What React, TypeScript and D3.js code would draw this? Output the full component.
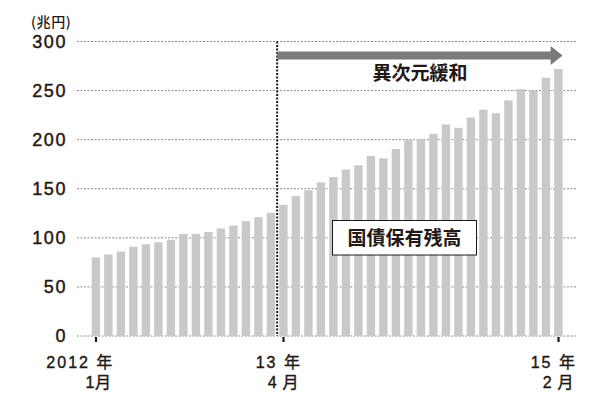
import React, { useEffect, useRef } from "react";
import * as d3 from "d3";

// 2012年1月 .. 2015年2月 (38 months), 兆円
const months = d3.range(38).map(i => {
  const y = 2012 + Math.floor(i / 12);
  const m = (i % 12) + 1;
  return `${y}-${m}`;
});
const holdings = [
  80, 83, 86, 91, 93.5, 95.5, 98, 104, 104, 106, 109.5, 112.5, 117, 121, 125.5,
  133.5, 142.5, 148.5, 156.5, 162, 169.5, 174, 183.5, 181, 190.5, 200, 200.5,
  206, 215.5, 212, 222.5, 230.5, 227, 240, 251.5, 250, 263, 272,
];
const yTicks = [0, 50, 100, 150, 200, 250, 300];
const xLabels = [
  { idx: 0, line1: "2012 年", line2: "1月" },
  { idx: 15, line1: "13 年", line2: "4 月" },
  { idx: 37, line1: "15 年", line2: "2 月" },
];
const startIdx = 15; // 2013年4月 異次元緩和開始

const W = 600;
const H = 399;
const ink = "#231815";
const font = "'Liberation Sans', 'Noto Sans CJK JP', sans-serif";
const jpFont = "'Noto Sans CJK JP', sans-serif";

export default function App() {
  const ref = useRef<SVGSVGElement>(null);

  useEffect(() => {
    const svg = d3.select(ref.current);
    svg.selectAll("*").remove();

    const x = d3.scaleBand<string>().domain(months).range([91.7, 562.6]).paddingInner(0.33).paddingOuter(0);
    const y = d3.scaleLinear().domain([0, 300]).range([336, 41.5]);
    const bw = x.bandwidth();
    const gap = x.step() - bw;

    // grid
    svg.append("g")
      .selectAll("line")
      .data(yTicks)
      .join("line")
      .attr("x1", 77)
      .attr("x2", 576)
      .attr("y1", d => y(d))
      .attr("y2", d => y(d))
      .attr("stroke", "#8a8a8a")
      .attr("stroke-width", 1)
      .attr("stroke-dasharray", "2,1.5");

    // y labels
    svg.append("g")
      .selectAll("text")
      .data(yTicks)
      .join("text")
      .attr("x", 67)
      .attr("y", d => y(d))
      .attr("dy", "0.36em")
      .attr("text-anchor", "end")
      .attr("font-family", font)
      .attr("font-size", 18)
      .attr("letter-spacing", 1.6)
      .attr("fill", ink)
      .attr("stroke", ink)
      .attr("stroke-width", 0.45)
      .text(d => d);

    svg.append("text")
      .attr("x", 31)
      .attr("y", 22)
      .attr("dy", "0.36em")
      .attr("font-family", jpFont)
      .attr("font-weight", 500)
      .attr("font-size", 14)
      .attr("letter-spacing", 0.6)
      .attr("fill", ink)
      .text("(兆円)");

    // bars
    svg.append("g")
      .selectAll("rect")
      .data(holdings)
      .join("rect")
      .attr("x", (d, i) => x(months[i])!)
      .attr("width", bw)
      .attr("y", d => y(d))
      .attr("height", d => y(0) - y(d))
      .attr("fill", "#c9c9c9");

    // bottom ticks + labels
    const lab = svg.append("g");
    xLabels.forEach(l => {
      const cx = x(months[l.idx])! + bw / 2;
      lab.append("rect")
        .attr("x", cx - 1)
        .attr("y", y(0) + 1)
        .attr("width", 2.2)
        .attr("height", 5)
        .attr("fill", ink);
      lab.append("text")
        .attr("x", cx + 18.5)
        .attr("y", 362.5)
        .attr("dy", "0.36em")
        .attr("text-anchor", "end")
        .attr("font-family", font)
        .attr("font-size", 16)
        .attr("letter-spacing", 2)
        .attr("fill", ink)
        .attr("stroke", ink)
        .attr("stroke-width", 0.4)
        .text(l.line1);
      lab.append("text")
        .attr("x", cx + 16)
        .attr("y", 382)
        .attr("dy", "0.36em")
        .attr("text-anchor", "end")
        .attr("font-family", font)
        .attr("font-size", 16)
        .attr("letter-spacing", 0.8)
        .attr("fill", ink)
        .attr("stroke", ink)
        .attr("stroke-width", 0.4)
        .text(l.line2);
    });

    // divider
    const dx = x(months[startIdx])! - gap / 2;
    svg.append("line")
      .attr("x1", dx)
      .attr("x2", dx)
      .attr("y1", y(300))
      .attr("y2", y(0))
      .attr("stroke", ink)
      .attr("stroke-width", 2)
      .attr("stroke-dasharray", "2,1.5");

    // arrow
    const tip = x(months[months.length - 1])! + bw;
    const ay = y(300) + 14;
    svg.append("path")
      .attr("d", `M${dx},${ay - 4}H${tip - 12}V${ay - 9.5}L${tip},${ay}L${tip - 12},${ay + 9.5}V${ay + 4}H${dx}Z`)
      .attr("fill", "#7a7a7a");

    svg.append("text")
      .attr("x", 420)
      .attr("y", 73)
      .attr("dy", "0.36em")
      .attr("text-anchor", "middle")
      .attr("font-family", jpFont)
      .attr("font-weight", 700)
      .attr("font-size", 19)
      .attr("fill", ink)
      .text("異次元緩和");

    // label box
    svg.append("rect")
      .attr("x", 332.5)
      .attr("y", 220.5)
      .attr("width", 144)
      .attr("height", 34.5)
      .attr("fill", "#fff")
      .attr("stroke", ink)
      .attr("stroke-width", 1);
    svg.append("text")
      .attr("x", 404.5)
      .attr("y", 238)
      .attr("dy", "0.36em")
      .attr("text-anchor", "middle")
      .attr("font-family", jpFont)
      .attr("font-weight", 700)
      .attr("font-size", 19)
      .attr("fill", ink)
      .text("国債保有残高");
  }, []);

  return (
    <svg
      ref={ref}
      width={W}
      height={H}
      style={{ position: "absolute", left: 0, top: 0, background: "#fff" }}
    />
  );
}
